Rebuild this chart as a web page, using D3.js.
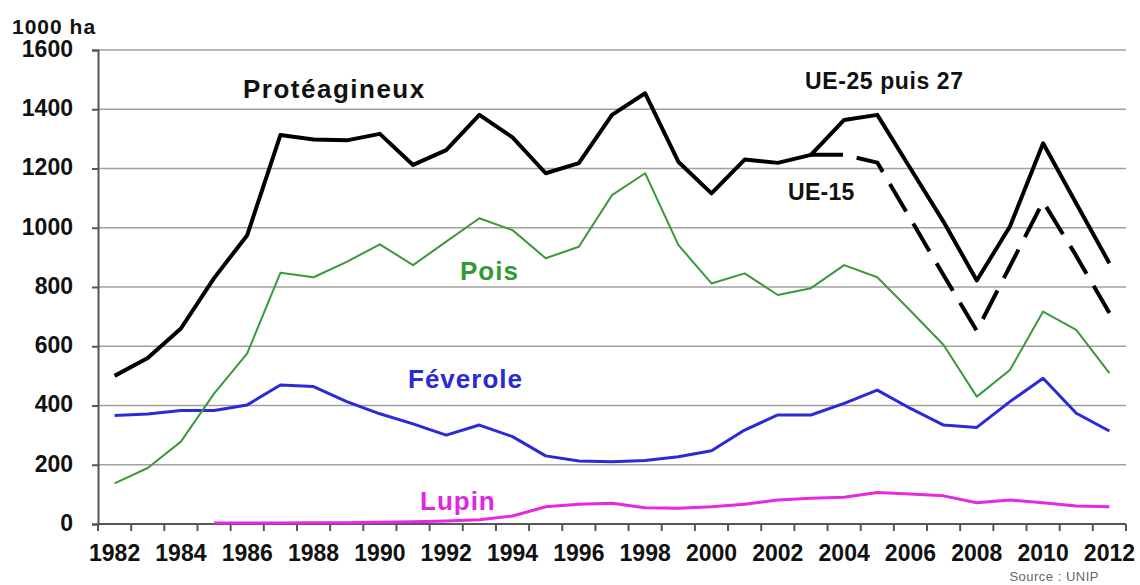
<!DOCTYPE html>
<html>
<head>
<meta charset="utf-8">
<script src="https://cdn.jsdelivr.net/npm/d3@7"></script>
<style>
  html, body { margin: 0; padding: 0; background: #fff; }
  svg text { font-family: "Liberation Sans", Arial, sans-serif; }
</style>
</head>
<body>
<svg id="chart" width="1140" height="585"></svg>
<script>
// Surfaces des protéagineux dans l'UE (1000 ha), 1982-2012
const years = d3.range(1982, 2013);
const yTicks = [0, 200, 400, 600, 800, 1000, 1200, 1400, 1600];

const proteagineux = [500, 560, 660, 830, 975, 1313, 1298, 1295, 1317, 1212, 1262, 1381, 1305, 1184, 1218,
  1381, 1454, 1223, 1116, 1230, 1219, 1246, 1364, 1381, 1200, 1020, 822, 1004, 1285, 1082, 880];
// UE-15 (2003-2012)
const ue15Years = d3.range(2003, 2013);
const ue15 = [1246, 1246, 1220, 1030, 840, 652, 870, 1088, 905, 712];
const pois = [137, 189, 278, 440, 576, 848, 833, 885, 944, 874, 953, 1032, 992, 897, 936,
  1110, 1184, 942, 812, 846, 773, 796, 874, 833, 720, 604, 430, 520, 717, 655, 509];
const feverole = [366, 371, 383, 383, 402, 469, 464, 413, 372, 338, 300, 334, 295, 230, 213,
  210, 214, 227, 247, 317, 368, 368, 407, 452, 390, 334, 326, 413, 492, 374, 314];
// Lupin (1985-2012)
const lupinYears = d3.range(1985, 2013);
const lupin = [3, 3, 3, 4, 4, 6, 8, 10, 14, 27, 58, 67, 70, 55, 53,
  58, 67, 81, 87, 90, 106, 101, 95, 72, 81, 72, 61, 58];

const svg = d3.select("#chart");
const x = d3.scaleBand().domain(years).range([98, 1126]).padding(0);
const y = d3.scaleLinear().domain([0, 1600]).range([524, 50]);
const cx = d => x(d) + x.bandwidth() / 2;

// grid
svg.append("g")
  .selectAll("line")
  .data(yTicks.filter(v => v > 0))
  .join("line")
  .attr("x1", 98).attr("x2", 1126)
  .attr("y1", d => y(d)).attr("y2", d => y(d))
  .attr("stroke", "#a0a0a0").attr("stroke-width", 1.5);

// y axis
const yAxis = svg.append("g")
  .attr("transform", "translate(98,0)")
  .call(d3.axisLeft(y).tickValues(yTicks).tickSize(6).tickPadding(19).tickFormat(d3.format("d")));
yAxis.select(".domain").attr("stroke", "#555").attr("stroke-width", 2);
yAxis.selectAll(".tick line").attr("stroke", "#555").attr("stroke-width", 2);
yAxis.selectAll(".tick text")
  .attr("fill", "#111").attr("font-size", 23).attr("font-weight", "bold")
  .attr("dy", "0.28em")
  .attr("font-family", "Liberation Sans, Arial, sans-serif");

// x axis: labels every other year, ticks between categories
const xAxis = svg.append("g")
  .attr("transform", "translate(0,524)")
  .call(d3.axisBottom(x).tickSize(0).tickPadding(21)
    .tickFormat(d => (d % 2 === 0 ? String(d) : "")));
xAxis.select(".domain").attr("stroke", "#555").attr("stroke-width", 2).attr("d", "M98,0H1126");
xAxis.selectAll(".tick text")
  .attr("fill", "#111").attr("font-size", 23).attr("font-weight", "bold")
  .attr("font-family", "Liberation Sans, Arial, sans-serif");
svg.append("g")
  .selectAll("line")
  .data(years.map(d => x(d)).concat([x.range()[1]]))
  .join("line")
  .attr("x1", d => d).attr("x2", d => d)
  .attr("y1", 524).attr("y2", 531)
  .attr("stroke", "#555").attr("stroke-width", 2);

// lines
const line = d3.line().x(d => cx(d[0])).y(d => y(d[1]));
function drawSeries(xs, vals, color, width, dash) {
  svg.append("path")
    .datum(xs.map((yr, i) => [yr, vals[i]]))
    .attr("d", line)
    .attr("fill", "none")
    .attr("stroke", color)
    .attr("stroke-width", width)
    .attr("stroke-linejoin", "round")
    .attr("stroke-dasharray", dash || null);
}
drawSeries(lupinYears, lupin, "#e628e0", 3);
drawSeries(years, feverole, "#2a2ad6", 3);
drawSeries(years, pois, "#3a993a", 2);
drawSeries(ue15Years, ue15, "#000", 4, "32,14");
drawSeries(years, proteagineux, "#000", 4);

// labels
const labels = [
  { t: "1000 ha", x: 12, y: 34, size: 21, color: "#111", ls: 1 },
  { t: "Protéagineux", x: 243, y: 98, size: 26, color: "#111", ls: 1.5 },
  { t: "UE-25 puis 27", x: 805, y: 89, size: 23, color: "#111", ls: 0.6 },
  { t: "UE-15", x: 788, y: 200, size: 23, color: "#111", ls: 0.3 },
  { t: "Pois", x: 460, y: 280, size: 26, color: "#339933", ls: 1 },
  { t: "Féverole", x: 408, y: 388, size: 26, color: "#2a2ad0", ls: 1 },
  { t: "Lupin", x: 420, y: 510, size: 26, color: "#e028e0", ls: 1 }
];
svg.append("g").selectAll("text")
  .data(labels)
  .join("text")
  .attr("x", d => d.x).attr("y", d => d.y)
  .attr("font-size", d => d.size).attr("font-weight", "bold")
  .attr("letter-spacing", d => d.ls)
  .attr("fill", d => d.color)
  .text(d => d.t);

svg.append("text")
  .attr("x", 1099).attr("y", 581)
  .attr("text-anchor", "end")
  .attr("font-size", 13).attr("letter-spacing", 0.5).attr("fill", "#666")
  .text("Source : UNIP");
</script>
</body>
</html>
